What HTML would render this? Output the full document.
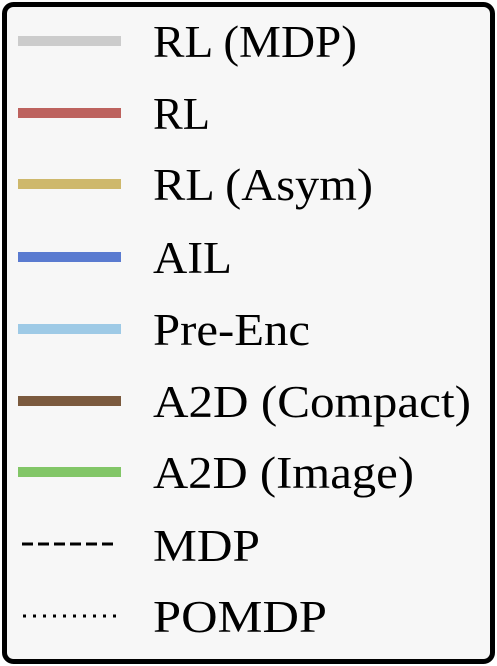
<!DOCTYPE html>
<html><head><meta charset="utf-8"><style>
html,body{margin:0;padding:0;background:#fff;}
svg{display:block;}
text{font-family:"Liberation Serif",serif;font-size:45px;fill:#000;}
</style></head><body>
<svg width="497" height="666" viewBox="0 0 497 666" xmlns="http://www.w3.org/2000/svg">
<rect x="4.5" y="4.5" width="488" height="657" rx="9" ry="9" fill="#f7f7f7" stroke="#000" stroke-width="5"/>
<g stroke-width="10">
<line x1="18" y1="41" x2="121" y2="41" stroke="#cccccc"/>
<line x1="18" y1="113" x2="121" y2="113" stroke="#bd625e"/>
<line x1="18" y1="184" x2="121" y2="184" stroke="#ceb86c"/>
<line x1="18" y1="257" x2="121" y2="257" stroke="#5a7bd0"/>
<line x1="18" y1="329" x2="121" y2="329" stroke="#9ecae6"/>
<line x1="18" y1="401" x2="121" y2="401" stroke="#7b5a3e"/>
<line x1="18" y1="472" x2="121" y2="472" stroke="#82c667"/>
</g>
<line x1="22" y1="544" x2="116" y2="544" stroke="#000" stroke-width="3" stroke-dasharray="11,5"/>
<line x1="23" y1="616" x2="116" y2="616" stroke="#000" stroke-width="3" stroke-dasharray="3,7"/>
<text x="153" y="57" textLength="204" lengthAdjust="spacingAndGlyphs">RL (MDP)</text>
<text x="153" y="129" textLength="57" lengthAdjust="spacingAndGlyphs">RL</text>
<text x="153" y="200" textLength="220" lengthAdjust="spacingAndGlyphs">RL (Asym)</text>
<text x="153" y="273" textLength="79" lengthAdjust="spacingAndGlyphs">AIL</text>
<text x="153" y="345" textLength="157" lengthAdjust="spacingAndGlyphs">Pre-Enc</text>
<text x="153" y="417" textLength="318" lengthAdjust="spacingAndGlyphs">A2D (Compact)</text>
<text x="153" y="488" textLength="261" lengthAdjust="spacingAndGlyphs">A2D (Image)</text>
<text x="153" y="561" textLength="107" lengthAdjust="spacingAndGlyphs">MDP</text>
<text x="153" y="632" textLength="174" lengthAdjust="spacingAndGlyphs">POMDP</text>
</svg>
</body></html>
